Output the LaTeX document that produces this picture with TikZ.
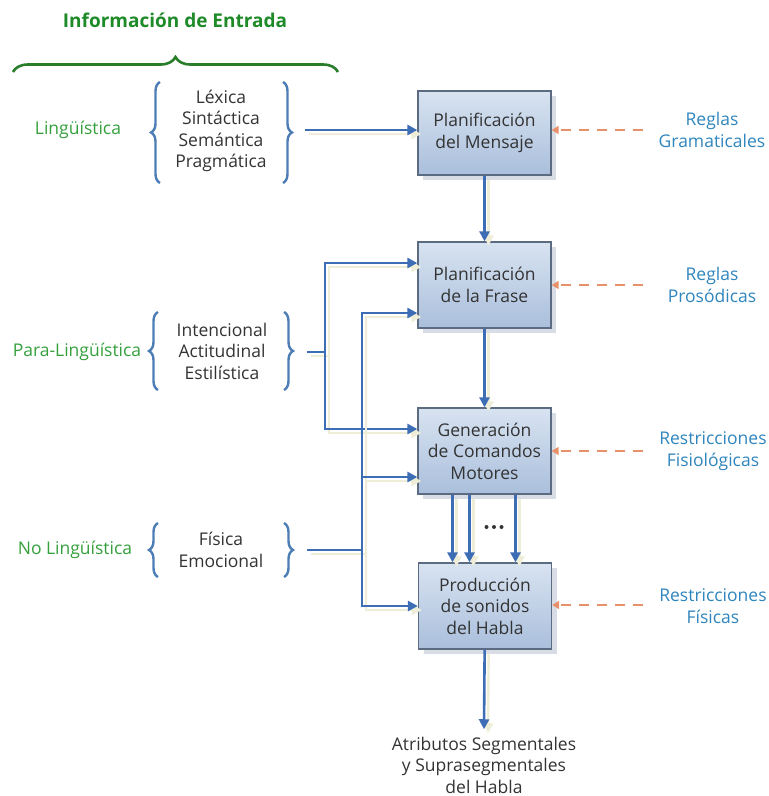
\documentclass[tikz,border=0pt]{standalone}
\usepackage{fontspec}
\setmainfont{Open Sans}
\usetikzlibrary{arrows.meta,decorations.pathreplacing,shadows}

\definecolor{linkblue}{HTML}{3D6DB5}
\definecolor{trail}{HTML}{EDEDD8}
\definecolor{titlegreen}{HTML}{1E8A28}
\definecolor{lblgreen}{HTML}{34A03C}
\definecolor{bracegreen}{HTML}{2A7D2A}
\definecolor{rulesblue}{HTML}{2F85BD}
\definecolor{braceblue}{HTML}{4D7DB5}
\definecolor{boxtext}{HTML}{333333}
\definecolor{boxedge}{HTML}{5B6B82}
\definecolor{boxtop}{HTML}{D8E3F1}
\definecolor{boxbot}{HTML}{AABFDC}
\definecolor{ctlorange}{HTML}{E8906A}
\definecolor{boxshadow}{HTML}{C8CFDA}

\tikzset{
  stagebox/.style={draw=boxedge, line width=1.3pt, top color=boxtop, bottom color=boxbot,
    minimum width=133pt, minimum height=86pt, align=center, text=boxtext,
    drop shadow={shadow xshift=5pt, shadow yshift=-5pt, fill=boxshadow, opacity=0.7}},
  flowline/.style={line width=2.6pt, draw=linkblue,
    preaction={draw=trail, line width=2.4pt, transform canvas={shift={(4pt,-4pt)}}}},
  flow/.style={flowline, -{Triangle[length=10pt,width=10pt]}},
  ctl/.style={draw=ctlorange, line width=1.7pt, dash pattern=on 10pt off 8pt,
    -{Triangle[length=7pt,width=8pt]}},
  bluebrace/.style={draw=braceblue, line width=2.4pt, decorate,
    decoration={brace, amplitude=9pt}},
  greenbrace/.style={draw=bracegreen, line width=2.6pt, decorate,
    decoration={brace, amplitude=15pt}},
  listtxt/.style={align=center, text=boxtext},
  srclbl/.style={text=lblgreen},
  rulelbl/.style={align=center, text=rulesblue},
}

\begin{document}
\begin{tikzpicture}[x=1pt, y=-1pt, font=\fontsize{17.5}{21.5}\selectfont]
\useasboundingbox (0,0) rectangle (769,796);

% heading and its brace
\node[text=titlegreen, font=\bfseries\fontsize{19}{22}\selectfont] (title) at (175,20) {Información de Entrada};
\draw[greenbrace] (13,72) -- (338,72);

% input categories
\node[srclbl] (c1) at (78,130) {Lingüística};
\node[srclbl] (c2) at (77,352) {Para-Lingüística};
\node[srclbl] (c3) at (75,550) {No Lingüística};

\node[listtxt] (g1) at (221,131) {Léxica\\Sintáctica\\Semántica\\Pragmática};
\node[listtxt] (g2) at (222,351) {Intencional\\Actitudinal\\Estilística};
\node[listtxt] (g3) at (221,550) {Física\\Emocional};

\draw[bluebrace] (160,183) -- (160,82);
\draw[bluebrace] (283,82) -- (283,183);
\draw[bluebrace] (158,390) -- (158,312);
\draw[bluebrace] (284,312) -- (284,390);
\draw[bluebrace] (158,577) -- (158,523);
\draw[bluebrace] (284,523) -- (284,577);

% processing stages
\node[stagebox, minimum height=84pt] (b1) at (484.5,133) {Planificación\\del Mensaje};
\node[stagebox] (b2) at (484.5,285) {Planificación\\de la Frase};
\node[stagebox] (b3) at (484.5,451) {Generación\\de Comandos\\Motores};
\node[stagebox] (b4) at (485,606) {Producción\\de sonidos\\del Habla};

% output
\node[listtxt] (out) at (484,765) {Atributos Segmentales\\y Suprasegmentales\\del Habla};

% rules and constraints
\node[rulelbl] (r1) at (712,130) {Reglas\\Gramaticales};
\node[rulelbl] (r2) at (712,285) {Reglas\\Prosódicas};
\node[rulelbl] (r3) at (713,451) {Restricciones\\Fisiológicas};
\node[rulelbl] (r4) at (713,606) {Restricciones\\Físicas};

\coordinate (d1) at (643,130);
\coordinate (d2) at (643,285);
\coordinate (d3) at (643,451);
\coordinate (d4) at (643,605);
\draw[ctl] (d1) -- (d1 -| b1.east);
\draw[ctl] (d2) -- (d2 -| b2.east);
\draw[ctl] (d3) -- (d3 -| b3.east);
\draw[ctl] (d4) -- (d4 -| b4.east);

% linguistic input
\coordinate (s1) at (305,130);
\draw[flow] (s1) -- (s1 -| b1.west);

% para-linguistic input
\coordinate (s2) at (307,352);
\coordinate (j2) at (325,352);
\draw[flowline] (s2) -- (j2);
\draw[flow] (j2) |- ([yshift=22pt]b2.west);
\draw[flow] (j2) |- ([yshift=22pt]b3.west);

% non-linguistic input
\coordinate (s3) at (307,550);
\coordinate (j3) at (362,550);
\draw[flowline] (s3) -- (j3);
\draw[flow] (j3) |- ([yshift=-28pt]b2.west);
\draw[flow] (j3) |- ([yshift=-26pt]b3.west);
\draw[flow] (j3) |- (b4.west);

% main chain
\draw[flow] (b1) -- (b2);
\draw[flow] (b2) -- (b3);
\draw[flow] ([xshift=-32pt]b3.south) -- ([xshift=-32pt]b3.south |- b4.north);
\draw[flow] ([xshift=-15pt]b3.south) -- ([xshift=-15pt]b3.south |- b4.north);
\draw[flow] ([xshift=31pt]b3.south) -- ([xshift=31pt]b3.south |- b4.north);
\fill[boxtext] (486.5,527) circle (2) (494,527) circle (2) (501.5,527) circle (2);
\draw[flow] (b4) -- ([yshift=4pt]out.north);
\end{tikzpicture}
\end{document}
